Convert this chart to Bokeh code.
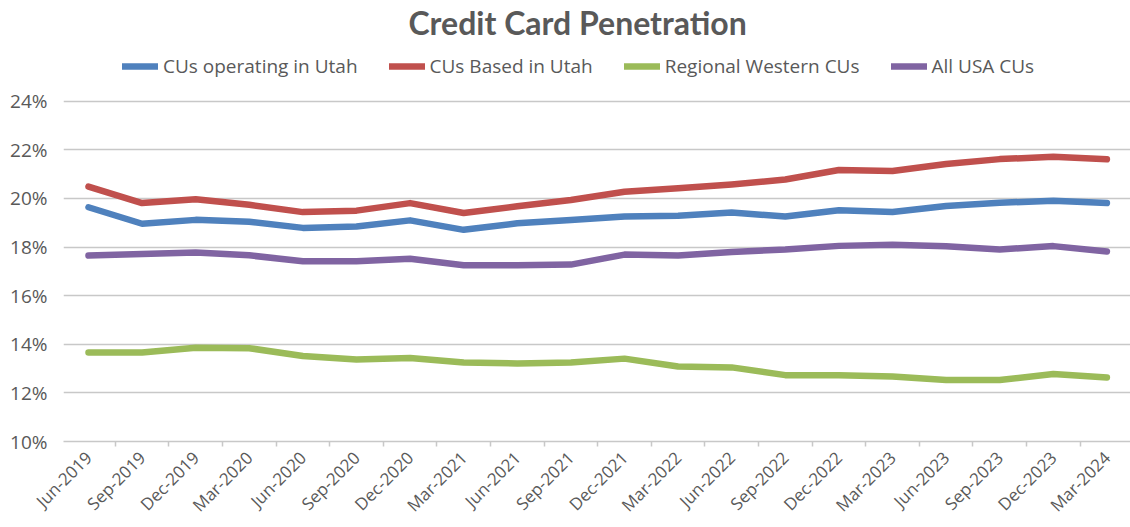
from math import pi
from bokeh.plotting import figure
from bokeh.models import ColumnDataSource, FixedTicker, Legend, LegendItem, Range1d
from bokeh.embed import file_html
from bokeh.resources import INLINE

categories = ["Jun-2019", "Sep-2019", "Dec-2019", "Mar-2020", "Jun-2020", "Sep-2020",
              "Dec-2020", "Mar-2021", "Jun-2021", "Sep-2021", "Dec-2021", "Mar-2022",
              "Jun-2022", "Sep-2022", "Dec-2022", "Mar-2023", "Jun-2023", "Sep-2023",
              "Dec-2023", "Mar-2024"]

ops_utah = [19.64, 18.96, 19.12, 19.04, 18.79, 18.85, 19.10, 18.71, 18.98, 19.11,
            19.26, 19.29, 19.42, 19.26, 19.52, 19.44, 19.69, 19.82, 19.91, 19.81]
based_utah = [20.49, 19.81, 19.97, 19.74, 19.44, 19.50, 19.81, 19.40, 19.68, 19.94,
              20.28, 20.42, 20.58, 20.78, 21.17, 21.13, 21.42, 21.62, 21.72, 21.61]
regional_west = [13.66, 13.66, 13.86, 13.84, 13.52, 13.37, 13.44, 13.25, 13.21, 13.25,
                 13.41, 13.09, 13.05, 12.73, 12.73, 12.67, 12.53, 12.53, 12.78, 12.63]
all_usa = [17.65, 17.72, 17.78, 17.66, 17.42, 17.42, 17.52, 17.25, 17.25, 17.28,
           17.69, 17.65, 17.80, 17.90, 18.05, 18.10, 18.03, 17.90, 18.04, 17.82]

series_names = ["CUs operating in Utah", "CUs Based in Utah", "Regional Western CUs", "All USA CUs"]
series_colors = ["#4F81BD", "#C0504D", "#9BBB59", "#8064A2"]
y_ticks = [10, 12, 14, 16, 18, 20, 22, 24]

xs = list(range(len(categories)))
src = ColumnDataSource(dict(x=xs, a=ops_utah, b=based_utah, c=regional_west, d=all_usa))

TXT = "#595959"
GRID = "#C8C8C8"
FONT = "Open Sans"

p = figure(width=1130, height=527, x_range=Range1d(-0.466, 19.44), y_range=Range1d(10, 26.46),
           output_backend="svg", toolbar_location=None,
           min_border_left=63, min_border_right=0, min_border_bottom=70, min_border_top=0)

p.title.text = "Credit Card Penetration"
p.title.align = "left"
p.title.text_font = "Lato"
p.title.text_font_style = "bold"
p.title.text_font_size = "32px"
p.title.text_color = TXT
p.title.offset = 345
p.title.standoff = 0

renderers = []
for col, name, color in zip(["a", "b", "c", "d"], series_names, series_colors):
    r = p.line("x", col, source=src, line_width=6.5, line_color=color,
               line_cap="round", line_join="round")
    renderers.append(r)

p.outline_line_color = None
p.xgrid.visible = False
p.ygrid.grid_line_color = GRID
p.ygrid.grid_line_width = 1.5

p.yaxis.ticker = FixedTicker(ticks=y_ticks)
p.yaxis.major_label_overrides = {t: f"{t}%" for t in y_ticks}
p.yaxis.axis_line_color = None
p.yaxis.major_tick_line_color = None
p.yaxis.minor_tick_line_color = None
p.yaxis.major_tick_out = 0
p.yaxis.major_label_text_font = FONT
p.yaxis.major_label_text_font_size = "19px"
p.yaxis.major_label_text_color = TXT
p.yaxis.major_label_standoff = 16

p.xaxis.axis_label = None
p.xaxis.ticker = FixedTicker(ticks=xs, minor_ticks=[i - 0.5 for i in range(len(categories) + 1)])
p.xaxis.major_label_overrides = {i: c for i, c in enumerate(categories)}
p.xaxis.axis_line_color = GRID
p.xaxis.axis_line_width = 1.5
p.xaxis.major_tick_line_color = None
p.xaxis.major_tick_out = 0
p.xaxis.major_tick_in = 0
p.xaxis.minor_tick_line_color = GRID
p.xaxis.minor_tick_line_width = 1.5
p.xaxis.minor_tick_in = 0
p.xaxis.minor_tick_out = 5
p.xaxis.major_label_orientation = pi / 4
p.xaxis.major_label_text_font = FONT
p.xaxis.major_label_text_font_size = "17px"
p.xaxis.major_label_text_color = TXT
p.xaxis.major_label_standoff = 8

legend = Legend(items=[LegendItem(label=n, renderers=[r]) for n, r in zip(series_names, renderers)],
                orientation="horizontal", location=(59, 362), spacing=31, glyph_width=36,
                glyph_height=14, label_standoff=5, padding=3, margin=0,
                border_line_color=None, background_fill_alpha=0,
                label_text_font=FONT, label_text_font_size="19px", label_text_color=TXT)
p.add_layout(legend, "center")

open("out.html", "w").write(file_html(p, INLINE))
